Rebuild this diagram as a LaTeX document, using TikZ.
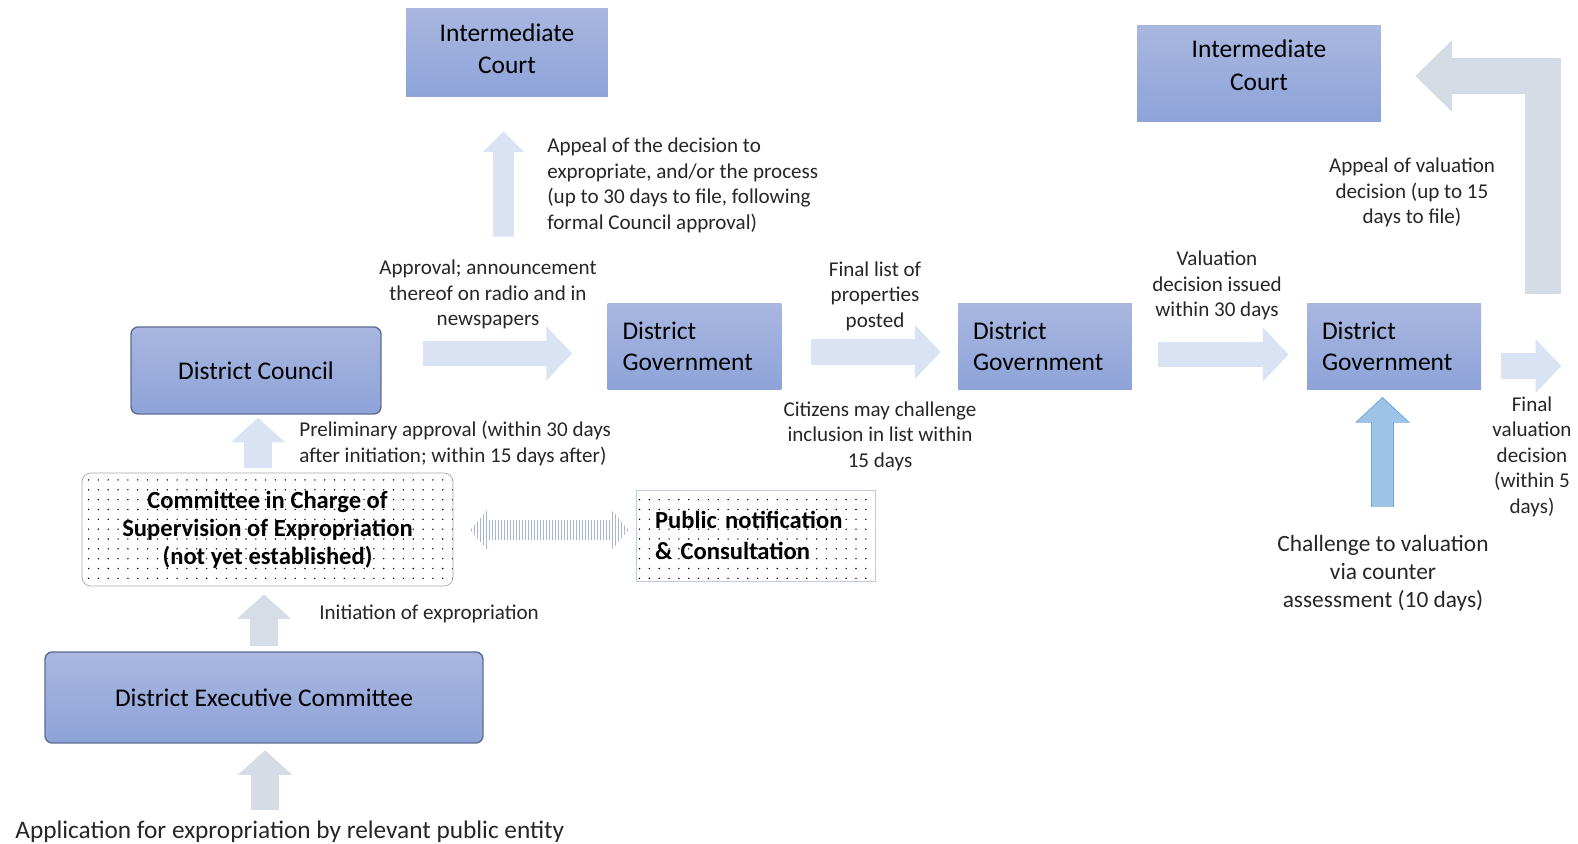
\documentclass[tikz,border=0pt]{standalone}
\usepackage{fontspec}
\setmainfont{Carlito}
\usetikzlibrary{arrows.meta,calc,patterns.meta}
\definecolor{boxtop}{HTML}{A9B7E0}
\definecolor{boxbottom}{HTML}{8DA3D9}
\definecolor{boxline}{HTML}{5E6C92}
\definecolor{flowlight}{HTML}{DAE3F3}
\definecolor{flowgray}{HTML}{D6DCE5}
\definecolor{flowblue}{HTML}{9DC3E6}
\definecolor{flowblueline}{HTML}{6FA6DA}
\definecolor{stripeblue}{HTML}{A7B5D4}
\definecolor{labeltext}{HTML}{262626}

\begin{document}
\begin{tikzpicture}[x=0.02cm, y=-0.02cm,
  orgbox/.style={top color=boxtop, bottom color=boxbottom, draw=none, inner sep=0pt, align=center, font=\fontsize{14.5}{18}\selectfont},
  courtbox/.style={orgbox},
  roundbox/.style={orgbox, draw=boxline, line width=0.8pt, rounded corners=4pt},
  govbox/.style={orgbox, align=left, text width=2.88cm, inner xsep=0.3cm, minimum height=1.74cm},
  dotbox/.style={pattern={Dots[distance=5.6pt, radius=0.45pt]}, pattern color=black, inner sep=0pt, font=\fontsize{14}{16}\selectfont\bfseries},
  lbl/.style={inner sep=0pt, align=center, text=labeltext, font=\fontsize{12}{14.5}\selectfont},
  flow/.style={draw=flowlight, line width=14.7pt, -{Triangle[length=14.7pt, width=30pt]}},
  upflow/.style={draw=flowlight, line width=15.5pt, -{Triangle[length=14pt, width=30pt]}},
  courtflow/.style={draw=flowlight, line width=11.9pt, -{Triangle[length=11.9pt, width=23.2pt]}},
  bentflow/.style={draw=flowgray, line width=20.4pt, line join=miter, -{Triangle[length=21pt, width=39.7pt]}},
  blueflow/.style={draw=flowblue, line width=11.9pt, -{Triangle[length=13.6pt, width=28.3pt]},
    preaction={draw=flowblueline, line width=12.9pt, shorten >=-0.8pt, shorten <=-0.5pt, -{Triangle[length=14.6pt, width=30.3pt]}}},
  stripe/.style={draw=stripeblue, line width=0.85pt}
]
\useasboundingbox (0,0) rectangle (1578,844);

% boxes
\node[courtbox, text depth=4.6pt, minimum width=4.04cm, minimum height=1.78cm] (court1) at (507,52.5) {Intermediate\\Court};
\node[courtbox, text depth=9.6pt, minimum width=4.88cm, minimum height=1.94cm, font=\fontsize{14.5}{19}\selectfont] (court2) at (1259,73.5) {Intermediate\\Court};
\node[roundbox, minimum width=5.0cm, minimum height=1.74cm] (council) at (256,370.5) {District Council};
\node[govbox] (gov1) at (694.5,346.5) {District\\Government};
\node[govbox] (gov2) at (1045,346.5) {District\\Government};
\node[govbox] (gov3) at (1394,346.5) {District\\Government};
\node[dotbox, draw=gray!70, rounded corners=5pt, align=center, minimum width=7.42cm, minimum height=2.26cm] (comm) at (267.5,529.5) {Committee in Charge of\\Supervision of Expropriation\\(not yet established)};
\node[dotbox, draw=stripeblue!70, align=left, text width=4.02cm, inner xsep=0.38cm, minimum height=1.82cm, font=\fontsize{14}{18}\selectfont\bfseries] (pub) at (755.5,535.5) {Public notification\\\& Consultation};
\node[roundbox, minimum width=8.76cm, minimum height=1.82cm] (dec) at (264,697.5) {District Executive Committee};

% labels
\node[lbl, anchor=west, align=left] (appeal) at (547,185.5) {Appeal of the decision to\\expropriate, and/or the process\\(up to 30 days to file, following\\formal Council approval)};
\node[lbl] (approval) at (488,294.5) {Approval; announcement\\thereof on radio and in\\newspapers};
\node[lbl] (finallist) at (875,296) {Final list of\\properties\\posted};
\node[lbl] (citizens) at (880,436) {Citizens may challenge\\inclusion in list within\\15 days};
\node[lbl] (valuation) at (1217,285.5) {Valuation\\decision issued\\within 30 days};
\node[lbl] (appealval) at (1412,192.5) {Appeal of valuation\\decision (up to 15\\days to file)};
\node[lbl] (finalval) at (1532,456.5) {Final\\valuation\\decision\\(within 5\\days)};
\node[lbl, font=\fontsize{13.3}{16}\selectfont] (chal) at (1383,573) {Challenge to valuation\\via counter\\assessment (10 days)};
\node[lbl, anchor=west, align=left] (prelim) at (299,443.5) {Preliminary approval (within 30 days\\after initiation; within 15 days after)};
\node[lbl, anchor=west] (initiation) at (319,614) {Initiation of expropriation};
\node[lbl, anchor=west, font=\fontsize{14.4}{17}\selectfont] (app) at (15,832) {Application for expropriation by relevant public entity};

% block arrows
\draw[upflow, draw=flowgray] ($(app.north -| dec.south)+(1,-11)$) -- ($(dec.south)+(1,6.5)$);
\draw[upflow, draw=flowgray!85!flowlight] ($(dec.north)+(0,-5)$) -- ($(comm.south)+(-3.5,8)$);
\draw[upflow] ($(comm.north -| council.south)+(2,-5)$) -- ($(council.south)+(2,3)$);
\draw[flow] ($(council.east)+(41,-17)$) -- ($(gov1.west)+(-35,7)$);
\draw[courtflow] ($(approval.north)+(15.5,-23)$) -- ($(court1.south)+(-3.5,34)$);
\draw[flow] ($(gov1.east)+(29,5.5)$) -- ($(gov2.west)+(-17,5.5)$);
\draw[flow] ($(gov2.east)+(26,8)$) -- ($(gov3.west)+(-18,8)$);
\draw[flow] ($(gov3.east)+(20,19.5)$) -- ($(gov3.east)+(80,19.5)$);
\draw[blueflow] ($(chal.north)+(-0.5,-28)$) -- ($(gov3.south)+(-11.5,8)$);
\draw[bentflow] ($(gov3.north east)+(62,-9)$) |- ($(court2.east)+(34,2.5)$);

% striped double arrow
\coordinate (dl) at ($(comm.east)+(17,0.5)$);
\coordinate (dr) at ($(pub.west)+(-7,-5.5)$);
\begin{scope}
  \clip (dl) -- ($(dl)+(17,-20)$) -- ($(dl)+(17,-10)$) -- ($(dr)+(-17,-10)$) -- ($(dr)+(-17,-20)$) -- (dr)
    -- ($(dr)+(-17,20)$) -- ($(dr)+(-17,10)$) -- ($(dl)+(17,10)$) -- ($(dl)+(17,20)$) -- cycle;
  \foreach \i in {0,...,53}
    \draw[stripe] ($(dl)+(1+3*\i,-21)$) -- ++(0,42);
\end{scope}
\end{tikzpicture}
\end{document}
